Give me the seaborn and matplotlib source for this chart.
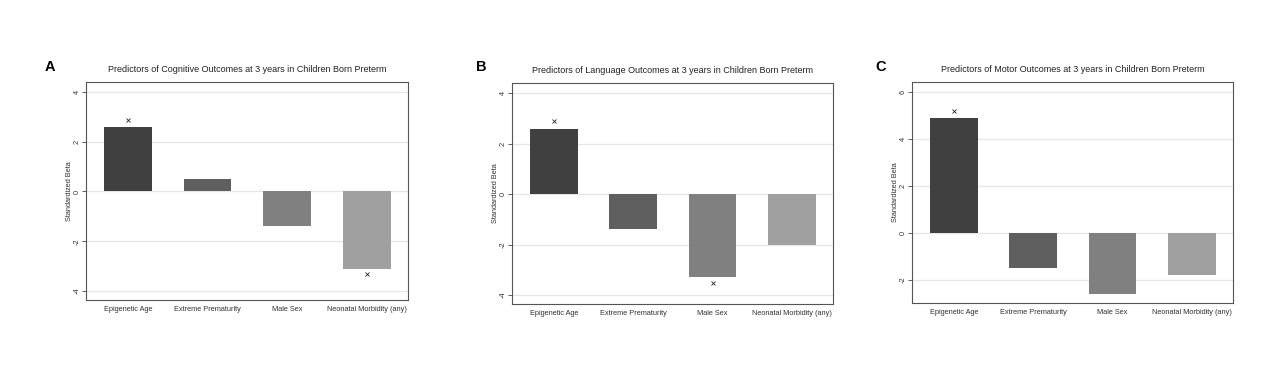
import numpy as np
import pandas as pd
import matplotlib
matplotlib.use("Agg")
import matplotlib.pyplot as plt
import seaborn as sns

categories = ["Epigenetic Age", "Extreme Prematurity", "Male Sex", "Neonatal Morbidity (any)"]
cognitive_beta = [2.6, 0.5, -1.4, -3.1]
language_beta = [2.6, -1.4, -3.3, -2.0]
motor_beta = [4.9, -1.5, -2.6, -1.8]
# significance markers (x) positions per category, NaN where absent
cognitive_sig = [2.88, np.nan, np.nan, -3.3]
language_sig = [2.9, np.nan, -3.52, np.nan]
motor_sig = [5.16, np.nan, np.nan, np.nan]
titles = ["Predictors of Cognitive Outcomes at 3 years in Children Born Preterm",
          "Predictors of Language Outcomes at 3 years in Children Born Preterm",
          "Predictors of Motor Outcomes at 3 years in Children Born Preterm"]
panel_letters = ["A", "B", "C"]
yticks_list = [[-4, -2, 0, 2, 4], [-4, -2, 0, 2, 4], [-2, 0, 2, 4, 6]]
ylims = [(-4.36, 4.4), (-4.36, 4.41), (-2.99, 6.41)]
bar_colors = ["#404040", "#5f5f5f", "#808080", "#a0a0a0"]

sns.set_theme(style="white")
plt.rcParams['font.family'] = ['Liberation Sans', 'DejaVu Sans']

W, H = 1280, 378
fig = plt.figure(figsize=(W / 100, H / 100), dpi=100)
fig.patch.set_facecolor("white")

boxes = [(86, 408, 82, 300), (512, 833, 83, 304), (912, 1233, 82, 303)]
letter_pos = [(50, 67), (481, 67), (881, 67)]

datasets = [(cognitive_beta, cognitive_sig), (language_beta, language_sig), (motor_beta, motor_sig)]

for i, ((vals, sig), (l, r, t, b)) in enumerate(zip(datasets, boxes)):
    ax = fig.add_axes([l / W, (H - b) / H, (r - l) / W, (b - t) / H])
    df = pd.DataFrame({"cat": categories, "beta": vals})
    ax.set_axisbelow(True)
    for yv in yticks_list[i]:
        ax.axhline(yv, color="#e6e6e6", lw=0.9, zorder=0)
    sns.barplot(data=df, x="cat", y="beta", hue="cat", palette=bar_colors,
                width=0.6, ax=ax, legend=False, saturation=1, edgecolor="none", zorder=2)
    ax.plot(np.arange(len(categories)), sig, linestyle="none", marker="x",
            markersize=3.2, mew=0.6, color="#222222", zorder=3)
    ax.set_xlim(-0.53, 3.52)
    ax.set_ylim(*ylims[i])
    ax.set_yticks(yticks_list[i])
    ax.set_yticklabels([str(v) for v in yticks_list[i]], rotation=90, va="center")
    ax.tick_params(axis="y", labelsize=5.3, length=3, width=0.6, color="#444444",
                   left=True, pad=0.8, labelcolor="#333333")
    ax.tick_params(axis="x", labelsize=5.3, length=0, pad=4, labelcolor="#333333")
    ax.set_xlabel("")
    ax.set_ylabel("Standardized Beta", fontsize=5.3, color="#333333", labelpad=0.5)
    ax.set_title(titles[i], fontsize=6.5, color="#222222", pad=7)
    for s in ax.spines.values():
        s.set_visible(True)
        s.set_color("#555555")
        s.set_linewidth(0.8)
    fig.text(letter_pos[i][0] / W, (H - letter_pos[i][1]) / H, panel_letters[i],
             fontsize=10.5, fontweight="bold", color="black", ha="center", va="center")

fig.savefig("out.png", dpi=100, facecolor="white")
